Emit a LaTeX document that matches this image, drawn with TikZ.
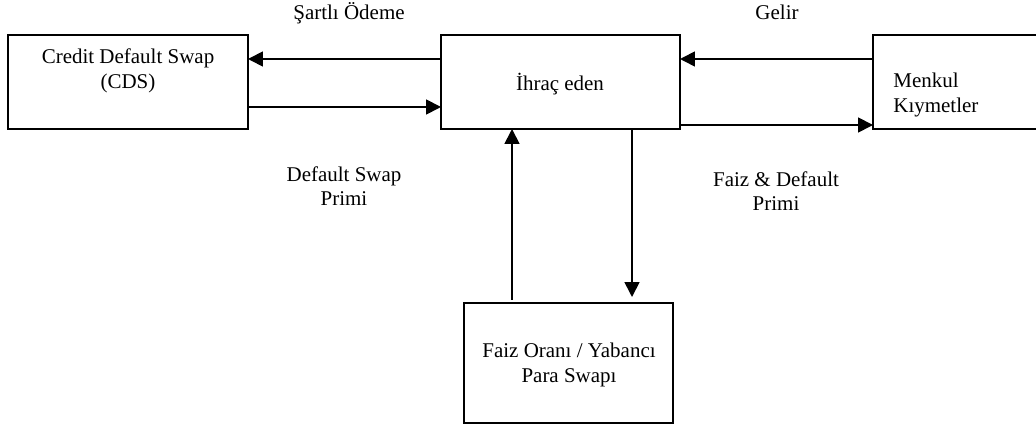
\documentclass[tikz,border=0pt]{standalone}
\usepackage{fontspec}
\setmainfont{Liberation Serif}
\usetikzlibrary{arrows.meta,calc}

% one drawing unit
\def\u{0.572pt}

\tikzset{
  box/.style={draw, line width=1.2pt, rectangle, inner sep=0pt, outer sep=0pt},
  txt/.style={font=\fontsize{12pt}{14pt}\selectfont, align=center, inner sep=0pt},
  arr/.style={line width=1pt, -{Triangle[length=8.5pt,width=8.5pt]}},
}

\begin{document}
\begin{tikzpicture}[x=\u, y=-\u]
  \useasboundingbox (0,0) rectangle (1036,427);
  \clip (0,0) rectangle (1036,427);

  % boxes
  \node[box, minimum width=240*\u, minimum height=94*\u] (cds) at (128,82) {};
  \node[box, minimum width=239*\u, minimum height=94*\u] (issuer) at (560.5,82) {};
  \node[box, minimum width=240*\u, minimum height=94*\u] (menkul) at (993,82) {};
  \node[box, minimum width=209*\u, minimum height=120*\u] (swap) at (568.5,363) {};

  % texts inside the boxes
  \node[txt] (cdsT) at (128,71) {Credit Default Swap\\(CDS)};
  \node[txt] (issuerT) at (560,84) {İhraç eden};
  \node[txt, align=left, anchor=west] (menkulT) at (893,95) {Menkul\\Kıymetler};
  \node[txt] (swapT) at (569,365) {Faiz Oranı / Yabancı\\Para Swapı};

  % flow labels
  \node[txt] (lSartli) at (349,13) {Şartlı Ödeme};
  \node[txt] (lGelir) at (777,12) {Gelir};
  \node[txt] (lDsp) at (344,186) {Default Swap\\Primi};
  \node[txt] (lFdp) at (776,191) {Faiz \& Default\\Primi};

  % connector levels
  \coordinate (yA) at (0,59);
  \coordinate (yB) at (0,107);
  \coordinate (yC) at (0,125);
  \coordinate (xU) at (512,0);
  \coordinate (xD) at (632,0);

  % flows
  \draw[arr] (issuer.west |- yA) -- (cds.east |- yA);
  \draw[arr] (cds.east |- yB) -- (issuer.west |- yB);
  \draw[arr] (menkul.west |- yA) -- (issuer.east |- yA);
  \draw[arr] (issuer.east |- yC) -- (menkul.west |- yC);
  \draw[arr, shorten <=3*\u] (swap.north -| xU) -- (issuer.south -| xU);
  \draw[arr, shorten >=6*\u] (issuer.south -| xD) -- (swap.north -| xD);
\end{tikzpicture}
\end{document}
